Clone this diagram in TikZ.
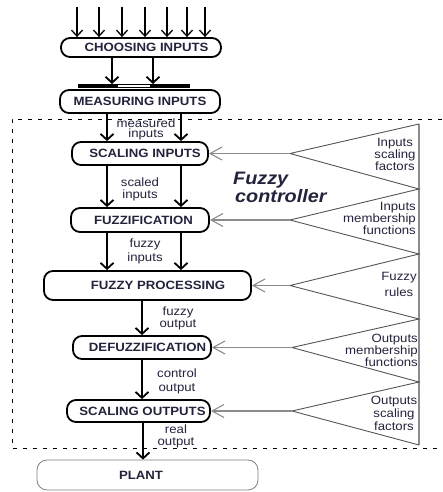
\documentclass[tikz,border=0pt]{standalone}
\usepackage{fontspec}
\setmainfont{Liberation Sans}[FakeStretch=1.1]
\usetikzlibrary{arrows.meta}
\definecolor{txt}{RGB}{35,35,60}
\definecolor{gline}{RGB}{140,140,140}
\definecolor{tri}{RGB}{85,85,85}
\begin{document}
\begin{tikzpicture}[x=1pt,y=-1pt,
  box/.style={draw=black, line width=1.8pt, rounded corners=9pt, font=\bfseries\fontsize{12}{12}\selectfont, text=txt, inner sep=0pt},
  plantbox/.style={draw=gray, line width=0.8pt, rounded corners=10pt, font=\bfseries\fontsize{12}{12}\selectfont, text=txt, inner sep=0pt},
  lab/.style={text=txt, align=center, inner sep=0pt},
  arr/.style={line width=1.8pt, -{Straight Barb[length=6pt,width=13pt]}},
  inarr/.style={line width=1.3pt, -{Straight Barb[length=6pt,width=11pt]}},
  garr/.style={draw=gline, line width=1.1pt, -{Straight Barb[length=12pt,width=13pt]}},
  frame/.style={line width=0.9pt, dash pattern=on 4pt off 6pt}
]
\useasboundingbox (0,0) rectangle (442,492);

% boxes
\node[box, minimum width=160pt, minimum height=19pt] (choose) at (141,47.5) {\hspace*{11pt}CHOOSING INPUTS};
\node[box, minimum width=160pt, minimum height=23pt] (measure) at (140,101.5) {MEASURING INPUTS};
\node[box, minimum width=136pt, minimum height=23pt] (scalin) at (140,153.5) {\hspace*{10pt}SCALING INPUTS};
\node[box, minimum width=138pt, minimum height=24pt] (fuzzif) at (140,220) {\hspace*{7pt}FUZZIFICATION};
\node[box, minimum width=207pt, minimum height=29pt] (proc) at (147.5,285.5) {\hspace*{21pt}FUZZY PROCESSING};
\node[box, minimum width=138pt, minimum height=23pt] (defuzz) at (142,347.5) {\hspace*{11pt}DEFUZZIFICATION};
\node[box, minimum width=143pt, minimum height=22pt] (scalout) at (138.5,411) {\hspace*{8pt}SCALING OUTPUTS};
\node[plantbox, minimum width=221pt, minimum height=30pt] (plant) at (147.5,475) {PLANT\hspace*{13pt}};

% dashed frame
\draw[frame] (442,119) -- (12,119) -- (12,448) -- (442,448);

% column coordinates
\coordinate (xa) at (107,0);
\coordinate (xb) at (181,0);
\coordinate (xm) at (142,0);
\coordinate (xc) at (112,0);
\coordinate (xd) at (153,0);

% top input arrows
\foreach \i/\x in {1/77,2/99,3/122,4/145,5/167,6/187,7/205}{
  \coordinate (in\i) at (\x,7);
  \draw[inarr] (in\i) -- (in\i |- choose.north);
}

% bar above measuring inputs
\coordinate (bar) at (0,84);
\fill (78,84) rectangle (118,88);
\fill (150,84) rectangle (190,88);
\draw[line width=0.6pt] (118,84.3) -- (150,84.3);
\draw[line width=0.6pt] (118,87.7) -- (150,87.7);
\draw[arr] (choose.south -| xc) -- (bar -| xc);
\draw[arr] (choose.south -| xd) -- (bar -| xd);

% main flow
\draw[arr] (measure.south -| xa) -- (scalin.north -| xa);
\draw[arr] (measure.south -| xb) -- (scalin.north -| xb);
\draw[arr] (scalin.south -| xa) -- (fuzzif.north -| xa);
\draw[arr] (scalin.south -| xb) -- (fuzzif.north -| xb);
\draw[arr] (fuzzif.south -| xa) -- (proc.north -| xa);
\draw[arr] (fuzzif.south -| xb) -- (proc.north -| xb);
\draw[arr] (proc.south -| xm) -- (defuzz.north -| xm);
\draw[arr] (defuzz.south -| xm) -- (scalout.north -| xm);
\coordinate (xp) at (143,0);
\draw[arr] (scalout.south -| xp) -- (plant.north -| xp);

% flow labels
\node[lab, font=\fontsize{12}{9.5}\selectfont] (l1) at (146,129.5) {measured\\inputs};
\node[lab, font=\fontsize{12}{12}\selectfont] (l2) at (140,189.5) {scaled\\inputs};
\node[lab, font=\fontsize{12}{14}\selectfont] (l3) at (145,251) {fuzzy\\inputs};
\node[lab, font=\fontsize{12}{12}\selectfont] (l4) at (178,318.5) {fuzzy\\output};
\node[lab, font=\fontsize{12}{14}\selectfont] (l5) at (177,381.5) {control\\output};
\node[lab, font=\fontsize{12}{12}\selectfont] (l6) at (176,436.5) {real\\output};

% Fuzzy controller
\node[text=txt, font=\bfseries\itshape\fontsize{18}{18}\selectfont, inner sep=0pt, anchor=base west] (fz1) at (233,184) {Fuzzy};
\node[text=txt, font=\bfseries\itshape\fontsize{18}{18}\selectfont, inner sep=0pt, anchor=base west] (fz2) at (235,202) {controller};

% right side triangles
\coordinate (v0) at (419,124);
\coordinate (v1) at (419,189);
\coordinate (v2) at (419,254);
\coordinate (v3) at (419,319);
\coordinate (v4) at (419,382);
\coordinate (v5) at (419,445);
\coordinate (t1) at (290,153.5);
\coordinate (t2) at (290,220);
\coordinate (t3) at (290,285.5);
\coordinate (t4) at (292,347.5);
\coordinate (t5) at (292,411);
\draw[gline, line width=1.6pt] (v0) -- (v5);
\draw[tri, line width=0.9pt] (v0) -- (t1) -- (v1) -- (t2) -- (v2) -- (t3) -- (v3) -- (t4) -- (v4) -- (t5) -- (v5);
\draw[garr] (t1) -- (scalin.east);
\draw[garr] (t2) -- (fuzzif.east);
\draw[garr] (t3) -- (proc.east);
\draw[garr] (t4) -- (defuzz.east);
\draw[garr] (t5) -- (scalout.east);

% right labels
\node[lab, font=\fontsize{12}{12}\selectfont] (r1) at (395,154) {Inputs\\scaling\\factors};
\node[lab, align=right, anchor=east, font=\fontsize{12}{12}\selectfont] (r2) at (416,218.5) {Inputs\\membership\\functions};
\node[lab, font=\fontsize{12}{16}\selectfont] (r3) at (399,284) {Fuzzy\\rules};
\node[lab, align=right, anchor=east, font=\fontsize{12}{12}\selectfont] (r4) at (418,350) {Outputs\\membership\\functions};
\node[lab, font=\fontsize{12}{13}\selectfont] (r5) at (394,413) {Outputs\\scaling\\factors};
\end{tikzpicture}
\end{document}
